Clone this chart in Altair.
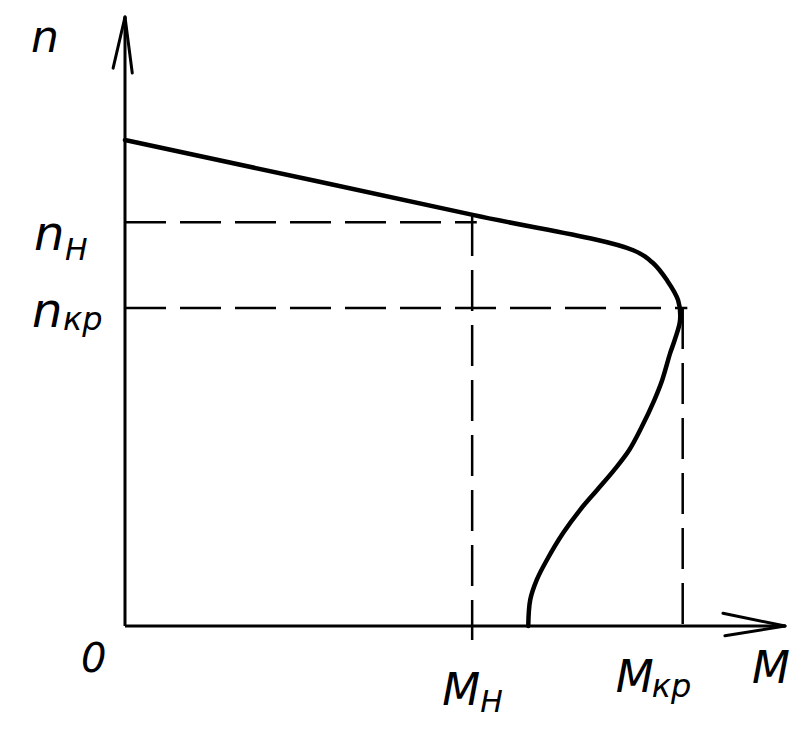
import altair as alt
import pandas as pd

# ---- values (M: torque, n: speed; arbitrary units 0..100) ----
curve_M = [0, 52.7, 77.0, 80.0, 82.1, 83.8, 84.1, 83.3, 82.6, 81.4, 80.2, 78.3, 76.4, 74.1,
           71.5, 68.9, 66.4, 63.9, 62.4, 61.4, 61.1]
curve_n = [79.8, 67.5, 61.7, 59.6, 56.8, 53.5, 50.2, 47.0, 44.8, 40.4, 37.1, 32.7, 28.9, 25.6,
           22.3, 19.0, 15.3, 10.8, 7.6, 4.3, 0]

M_nom, n_nom = 52.6, 66.3       # M_H, n_H
M_cr, n_cr = 84.5, 52.2         # M_кр, n_кр
n_on_curve_at_Mnom = 67.5
axis_max = 100
below_axis = -2.3

# arrow heads (wing ends)
y_arrow_M = [-1.8, 1.1]
y_arrow_n = [91.6, 90.8]
x_arrow_M = [90.6, 90.9]
x_arrow_n = [2.1, -1.6]

xs = alt.Scale(domain=[0, 100], nice=False, zero=False)
ys = alt.Scale(domain=[0, 100], nice=False, zero=False)
FONT = "DejaVu Sans"


def X(f="M"):
    return alt.X(f"{f}:Q", scale=xs, axis=None)


def Y(f="n"):
    return alt.Y(f"{f}:Q", scale=ys, axis=None)


curve_df = pd.DataFrame({"M": curve_M, "n": curve_n, "o": list(range(len(curve_M)))})
curve = alt.Chart(curve_df).mark_line(
    color="black", strokeWidth=4.5, interpolate="catmull-rom", strokeCap="round", strokeJoin="round"
).encode(x=X(), y=Y(), order="o:Q")

# axes lines
axes_df = pd.DataFrame({
    "M": [0, 0], "n": [0, 0], "M2": [0, axis_max], "n2": [axis_max, 0]
})
axes = alt.Chart(axes_df).mark_rule(color="black", strokeWidth=3).encode(
    x=X(), y=Y(), x2="M2:Q", y2="n2:Q"
)

# arrow heads
arrows_df = pd.DataFrame({
    "M": y_arrow_M + x_arrow_M,
    "n": y_arrow_n + x_arrow_n,
    "M2": [0, 0, axis_max, axis_max],
    "n2": [axis_max, axis_max, 0, 0],
})
arrows = alt.Chart(arrows_df).mark_rule(color="black", strokeWidth=3, strokeCap="round").encode(
    x=X(), y=Y(), x2="M2:Q", y2="n2:Q"
)

# dashed guide lines
dash_df = pd.DataFrame({
    "M": [0, M_nom, 0, M_cr],
    "n": [n_nom, n_on_curve_at_Mnom, n_cr, n_cr],
    "M2": [M_nom + 0.7, M_nom, M_cr + 0.7, M_cr],
    "n2": [n_nom, below_axis, n_cr, -0.8],
})
dashes = alt.Chart(dash_df).mark_rule(color="black", strokeWidth=2.5, strokeDash=[41, 14]).encode(
    x=X(), y=Y(), x2="M2:Q", y2="n2:Q"
)


def label(text, m, n, dx, dy, size):
    df = pd.DataFrame({"M": [m], "n": [n], "t": [text]})
    return alt.Chart(df).mark_text(
        font=FONT, fontStyle="italic", fontSize=size, align="left", baseline="alphabetic",
        dx=dx, dy=dy, color="black"
    ).encode(x=X(), y=Y(), text="t:N")


labels = [
    label("n", 0, axis_max, -94, 35, 44),
    label("n", 0, n_nom, -91, 28, 48),
    label("Н", 0, n_nom, -60, 38, 30),
    label("n", 0, n_cr, -93, 19, 48),
    label("кр", 0, n_cr, -62, 22, 32),
    label("0", 0, 0, -44, 46, 40),
    label("M", M_nom, 0, -30, 79, 44),
    label("Н", M_nom, 0, 8, 86, 30),
    label("M", M_cr, 0, -67, 66, 44),
    label("кр", M_cr, 0, -31, 71, 32),
    label("M", axis_max, 0, -33, 57, 44),
]

chart = alt.layer(dashes, axes, arrows, curve, *labels).properties(
    width=660, height=609,
    autosize=alt.AutoSizeParams(type="none"),
    padding={"left": 117, "top": 9, "right": 10, "bottom": 101},
).configure(background="white", view=alt.ViewConfig(stroke=None))

chart.save("out.html", embed_options={"renderer": "svg", "actions": False})
